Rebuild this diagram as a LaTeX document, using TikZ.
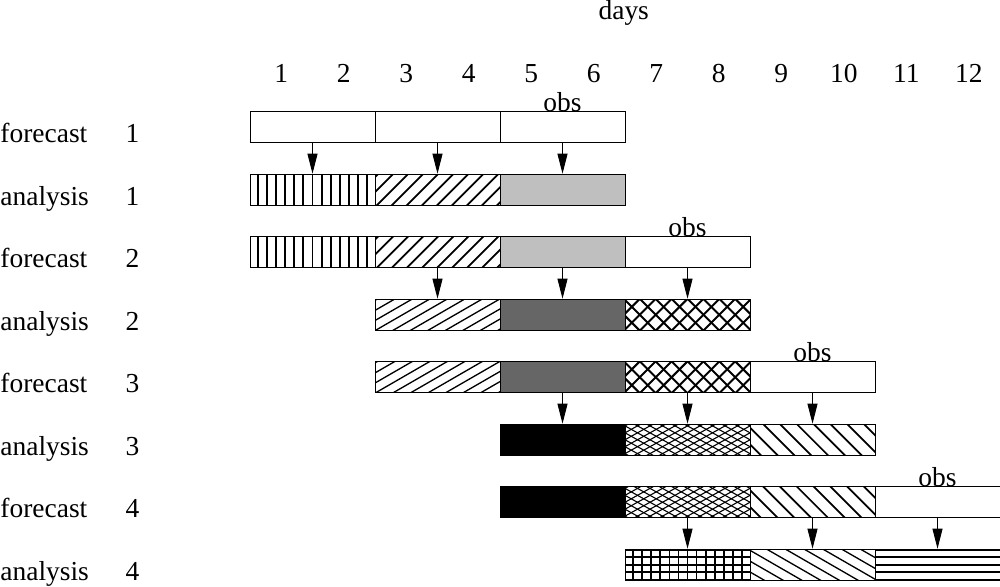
\documentclass[tikz,border=0pt]{standalone}
\usepackage{fontspec}
\setmainfont{Liberation Serif}
\usetikzlibrary{arrows.meta,calc}

% parallel lines at angle #1, #2 apart, #3 wide, clipped to the block
\newcommand\hatchlines[3]{%
  \foreach \i in {-12,...,12}
    \draw[line width=#3] ($(path picture bounding box.center)+(#1+90:\i*#2)$)
      ++(#1:-3) -- ++(#1:6);}

\tikzset{
  blk/.style={draw, line width=0.4pt, minimum width=2cm, minimum height=0.5cm, inner sep=0pt},
  txt/.style={font=\fontsize{12.5}{14}\selectfont, inner sep=0pt},
  upd/.style={-{Triangle[length=3.2mm,width=1.6mm]}, line width=0.4pt},
  % fillings of the blocks
  vlines/.style={path picture={\hatchlines{90}{0.145cm}{0.9pt}}},
  nelines/.style={path picture={\hatchlines{45}{0.17cm}{0.8pt}}},
  neflat/.style={path picture={\hatchlines{30}{0.14cm}{0.6pt}}},
  nwlines/.style={path picture={\hatchlines{-45}{0.19cm}{0.8pt}}},
  nwflat/.style={path picture={\hatchlines{-30}{0.15cm}{0.6pt}}},
  hlines/.style={path picture={\hatchlines{0}{0.12cm}{0.9pt}}},
  xhatch/.style={path picture={\hatchlines{45}{0.18cm}{0.9pt}\hatchlines{-45}{0.18cm}{0.9pt}}},
  finex/.style={path picture={\hatchlines{29}{0.097cm}{0.5pt}\hatchlines{-29}{0.097cm}{0.5pt}}},
  grid/.style={path picture={\hatchlines{90}{0.145cm}{0.8pt}\hatchlines{0}{0.12cm}{0.8pt}}},
}

\begin{document}
\begin{tikzpicture}
\useasboundingbox (0,0) rectangle (16,9.376);

\node[txt, anchor=base] (days) at (9.98,9.06) {days};
\foreach \d in {1,...,12}
  \node[txt, anchor=base] (day\d) at (3.5+\d,8.06) {\d};

\foreach \k/\w/\n in {0/forecast/1, 1/analysis/1, 2/forecast/2, 3/analysis/2,
                      4/forecast/3, 5/analysis/3, 6/forecast/4, 7/analysis/4} {
  \node[txt, anchor=base west] (lab\k) at (0,7.09-\k) {\w};
  \node[txt, anchor=base] (num\k) at (2.12,7.09-\k) {\n};
}

% cycle 1
\node[blk] (f1a) at (5,7.34) {};
\node[blk] (f1b) at (7,7.34) {};
\node[blk] (f1c) at (9,7.34) {};
\node[txt, anchor=base] (obs1) at (f1c.north) {obs};
\node[blk, vlines] (a1a) at (5,6.34) {};
\node[blk, nelines] (a1b) at (7,6.34) {};
\node[blk, fill=black!25] (a1c) at (9,6.34) {};
\draw[upd] (f1a) -- (a1a);
\draw[upd] (f1b) -- (a1b);
\draw[upd] (f1c) -- (a1c);

% cycle 2
\node[blk, vlines] (f2a) at (5,5.34) {};
\node[blk, nelines] (f2b) at (7,5.34) {};
\node[blk, fill=black!25] (f2c) at (9,5.34) {};
\node[blk] (f2d) at (11,5.34) {};
\node[txt, anchor=base] (obs2) at (f2d.north) {obs};
\node[blk, neflat] (a2b) at (7,4.34) {};
\node[blk, fill=black!60] (a2c) at (9,4.34) {};
\node[blk, xhatch] (a2d) at (11,4.34) {};
\draw[upd] (f2b) -- (a2b);
\draw[upd] (f2c) -- (a2c);
\draw[upd] (f2d) -- (a2d);

% cycle 3
\node[blk, neflat] (f3b) at (7,3.34) {};
\node[blk, fill=black!60] (f3c) at (9,3.34) {};
\node[blk, xhatch] (f3d) at (11,3.34) {};
\node[blk] (f3e) at (13,3.34) {};
\node[txt, anchor=base] (obs3) at (f3e.north) {obs};
\node[blk, fill=black] (a3c) at (9,2.34) {};
\node[blk, finex] (a3d) at (11,2.34) {};
\node[blk, nwlines] (a3e) at (13,2.34) {};
\draw[upd] (f3c) -- (a3c);
\draw[upd] (f3d) -- (a3d);
\draw[upd] (f3e) -- (a3e);

% cycle 4
\node[blk, fill=black] (f4c) at (9,1.34) {};
\node[blk, finex] (f4d) at (11,1.34) {};
\node[blk, nwlines] (f4e) at (13,1.34) {};
\node[blk] (f4f) at (15,1.34) {};
\node[txt, anchor=base] (obs4) at (f4f.north) {obs};
\node[blk, grid] (a4d) at (11,0.34) {};
\node[blk, nwflat] (a4e) at (13,0.34) {};
\node[blk, hlines] (a4f) at (15,0.34) {};
\draw[upd] (f4d) -- (a4d);
\draw[upd] (f4e) -- (a4e);
\draw[upd] (f4f) -- (a4f);
\end{tikzpicture}
\end{document}
